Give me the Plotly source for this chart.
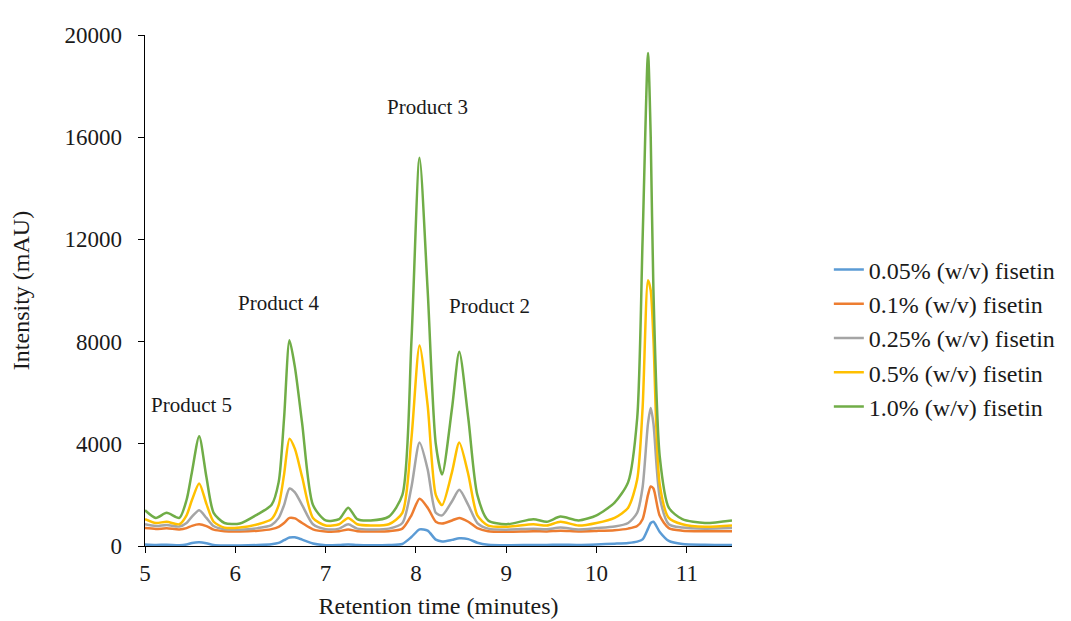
import plotly.graph_objects as go

time_min = [5.00, 5.12, 5.24, 5.38, 5.46, 5.52, 5.60, 5.68, 5.76, 5.88, 6.05, 6.25, 6.40, 6.48, 6.54,
            6.60, 6.66, 6.74, 6.86, 7.00, 7.15, 7.25, 7.35, 7.50, 7.70, 7.85, 7.95, 8.04, 8.13, 8.22,
            8.29, 8.40, 8.48, 8.58, 8.68, 8.80, 9.00, 9.30, 9.45, 9.60, 9.80, 10.00, 10.20, 10.35,
            10.45, 10.51, 10.57, 10.60, 10.63, 10.70, 10.80, 10.95, 11.20, 11.50]

fisetin_005 = [60, 40, 50, 30, 60, 120, 150, 110, 40, 20, 20, 40, 70, 120, 230,
               330, 340, 250, 100, 30, 40, 60, 40, 30, 40, 80, 350, 650, 600, 250,
               180, 240, 300, 270, 130, 50, 30, 40, 40, 50, 40, 60, 90, 120,
               170, 260, 680, 900, 950, 550, 200, 80, 50, 40]

fisetin_01 = [700, 670, 690, 650, 700, 790, 850, 780, 640, 580, 570, 600, 660, 750, 900,
              1100, 1080, 900, 650, 570, 580, 650, 580, 570, 580, 680, 1200, 1850, 1500, 950,
              880, 1000, 1100, 950, 700, 580, 560, 580, 570, 600, 570, 590, 620, 680,
              780, 1050, 2000, 2330, 2250, 1180, 700, 600, 580, 580]

fisetin_025 = [850, 780, 820, 760, 900, 1150, 1400, 1100, 780, 650, 640, 700, 820, 1100, 1600,
               2250, 2100, 1600, 850, 660, 680, 850, 680, 650, 680, 900, 2300, 4050, 3000, 1300,
               1200, 1750, 2200, 1600, 900, 680, 640, 680, 660, 720, 650, 700, 760, 900,
               1300, 2300, 4800, 5400, 4800, 1900, 850, 720, 680, 700]

fisetin_05 = [1050, 900, 950, 850, 1200, 1800, 2450, 1650, 950, 720, 720, 850, 1050, 1600, 2800,
              4200, 3800, 2700, 1100, 800, 850, 1100, 850, 800, 850, 1300, 4200, 7850, 5500, 2000,
              1600, 2900, 4050, 2800, 1200, 800, 750, 850, 800, 950, 800, 900, 1100, 1500,
              2600, 5400, 10400, 10000, 8100, 2400, 1100, 850, 750, 800]

fisetin_10 = [1400, 1100, 1300, 1100, 1800, 2900, 4300, 2700, 1300, 900, 880, 1250, 1600, 2500, 5000,
              8050, 7000, 4800, 1600, 1000, 1050, 1500, 1050, 1000, 1150, 2000, 8000, 15200, 10000, 4000,
              2800, 5400, 7600, 5000, 2000, 1000, 850, 1050, 950, 1150, 1000, 1200, 1700, 2500,
              5000, 12000, 19300, 16000, 10000, 3500, 1500, 1050, 900, 1000]

series_names = ["0.05% (w/v) fisetin", "0.1% (w/v) fisetin", "0.25% (w/v) fisetin",
                "0.5% (w/v) fisetin", "1.0% (w/v) fisetin"]
series_values = [fisetin_005, fisetin_01, fisetin_025, fisetin_05, fisetin_10]
series_colors = ["#5B9BD5", "#ED7D31", "#A5A5A5", "#FFC000", "#70AD47"]

peak_labels = ["Product 1", "Product 2", "Product 3", "Product 4", "Product 5"]
peak_label_x = [10.57, 8.81, 8.13, 6.48, 5.52]
peak_label_y = [20500, 9400, 17200, 9500, 5500]

y_ticks = [0, 4000, 8000, 12000, 16000, 20000]
x_ticks = [5, 6, 7, 8, 9, 10, 11]

FONT = "Liberation Serif"
TXT = "#1a1a1a"

fig = go.Figure()
for name, vals, col in zip(series_names, series_values, series_colors):
    fig.add_trace(go.Scatter(x=time_min, y=vals, name=name, mode="lines",
                             line=dict(color=col, width=2.5, shape="spline", smoothing=0.7)))

for lab, lx, ly in zip(peak_labels, peak_label_x, peak_label_y):
    fig.add_annotation(x=lx, y=ly, text=lab, showarrow=False,
                       font=dict(family=FONT, size=21, color=TXT))

fig.update_layout(
    width=1063, height=613,
    margin=dict(l=137, r=338, t=27, b=75),
    paper_bgcolor="white", plot_bgcolor="white",
    font=dict(family=FONT, size=23, color=TXT),
    showlegend=True,
    legend=dict(x=1.163, xanchor="left", y=0.407, yanchor="middle",
                font=dict(family=FONT, size=24, color=TXT),
                bgcolor="rgba(0,0,0,0)"),
    xaxis=dict(range=[5, 11.5], tickvals=x_ticks, ticktext=[str(v) for v in x_ticks],
               showgrid=False, zeroline=False, automargin=False,
               showline=True, linecolor="black", linewidth=1, ticks="outside", ticklen=6,
               tickcolor="black", tickfont=dict(family=FONT, size=23, color=TXT),
               title=dict(text="Retention time (minutes)", standoff=12,
                          font=dict(family=FONT, size=24, color=TXT))),
    yaxis=dict(range=[0, 20000], tickvals=y_ticks, ticktext=[str(v) + "\u2002" for v in y_ticks],
               showgrid=False, automargin=False,
               zeroline=False, showline=True, linecolor="black", linewidth=1, ticks="outside",
               ticklen=6, tickcolor="black", tickfont=dict(family=FONT, size=23, color=TXT),
               title=dict(text="Intensity (mAU)", standoff=32,
                          font=dict(family=FONT, size=24, color=TXT))),
)

fig.write_html("out.html")
